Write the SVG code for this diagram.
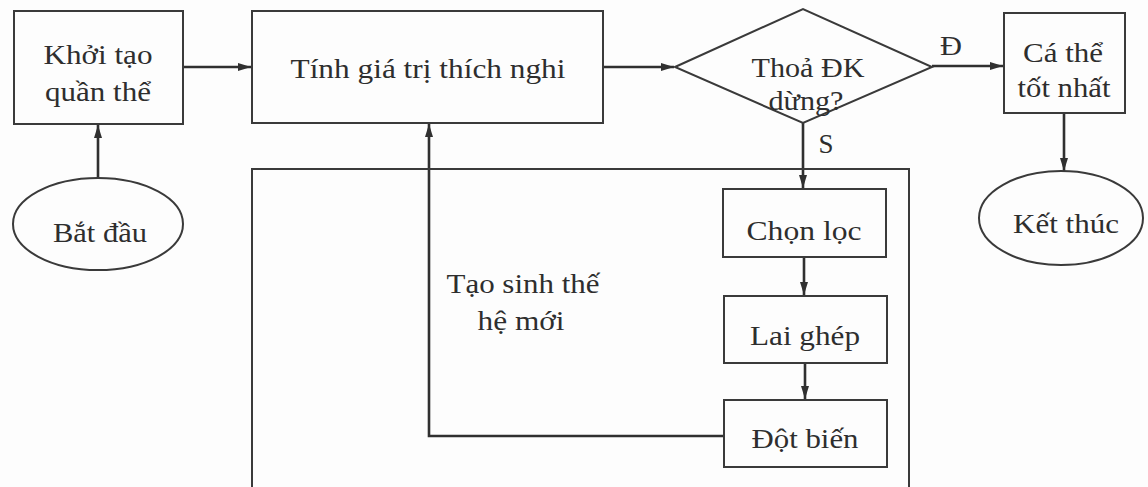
<svg xmlns="http://www.w3.org/2000/svg" width="1148" height="487" viewBox="0 0 1148 487">
  <style>
    .shape { fill: none; stroke: #3a3a3a; stroke-width: 2; }
    .link { fill: none; stroke: #303030; stroke-width: 2.6; }
    .label { font-family: "Liberation Serif", "Times New Roman", serif; font-size: 28px; fill: #2e2e2e; text-anchor: middle; }
  </style>
  <defs>
    <marker id="arrow" viewBox="0 0 13 8" refX="13" refY="4" markerWidth="13" markerHeight="8" markerUnits="userSpaceOnUse" orient="auto">
      <path d="M0,0 L13,4 L0,8 Z" fill="#303030"/>
    </marker>
  </defs>
  <rect width="1148" height="487" fill="#fdfdfd"/>

  <!-- connectors -->
  <g id="connectors">
    <line class="link" x1="98" y1="178" x2="98" y2="125" marker-end="url(#arrow)"/>
    <line class="link" x1="183" y1="67" x2="251" y2="67" marker-end="url(#arrow)"/>
    <line class="link" x1="603" y1="67" x2="674" y2="67" marker-end="url(#arrow)"/>
    <line class="link" x1="932" y1="66" x2="1003" y2="66" marker-end="url(#arrow)"/>
    <line class="link" x1="1064" y1="113" x2="1064" y2="171" marker-end="url(#arrow)"/>
    <line class="link" x1="803" y1="123" x2="803" y2="188" marker-end="url(#arrow)"/>
    <line class="link" x1="804" y1="257" x2="804" y2="295" marker-end="url(#arrow)"/>
    <line class="link" x1="805" y1="363" x2="805" y2="399" marker-end="url(#arrow)"/>
    <polyline class="link" points="724,436 429,436 429,124" marker-end="url(#arrow)"/>
    <text class="label" x="951" y="55" textLength="22" lengthAdjust="spacingAndGlyphs">Đ</text>
    <text class="label" x="826" y="153" textLength="15" lengthAdjust="spacingAndGlyphs">S</text>
  </g>

  <!-- outer frame of the reproduction stage -->
  <g id="generation">
    <path class="shape" d="M252,490 V169 H909 V490"/>
    <text class="label" x="523" y="293" textLength="153" lengthAdjust="spacingAndGlyphs">Tạo sinh thế</text>
    <text class="label" x="521" y="330" textLength="87" lengthAdjust="spacingAndGlyphs">hệ mới</text>
  </g>

  <g id="start">
    <ellipse class="shape" cx="98" cy="224" rx="85" ry="46"/>
    <text class="label" x="100" y="242" textLength="94" lengthAdjust="spacingAndGlyphs">Bắt đầu</text>
  </g>

  <g id="init">
    <rect class="shape" x="14" y="11" width="169" height="113"/>
    <text class="label" x="98" y="64" textLength="109" lengthAdjust="spacingAndGlyphs">Khởi tạo</text>
    <text class="label" x="98" y="101" textLength="106" lengthAdjust="spacingAndGlyphs">quần thể</text>
  </g>

  <g id="fitness">
    <rect class="shape" x="252" y="11" width="351" height="112"/>
    <text class="label" x="428" y="78" textLength="275" lengthAdjust="spacingAndGlyphs">Tính giá trị thích nghi</text>
  </g>

  <g id="stop-check">
    <polygon class="shape" points="675,67 803,9 932,67 803,123"/>
    <text class="label" x="808" y="77" textLength="113" lengthAdjust="spacingAndGlyphs">Thoả ĐK</text>
    <text class="label" x="806" y="110" textLength="75" lengthAdjust="spacingAndGlyphs">dừng?</text>
  </g>

  <g id="best">
    <rect class="shape" x="1004" y="13" width="121" height="100"/>
    <text class="label" x="1063" y="62" textLength="80" lengthAdjust="spacingAndGlyphs">Cá thể</text>
    <text class="label" x="1064" y="97" textLength="93" lengthAdjust="spacingAndGlyphs">tốt nhất</text>
  </g>

  <g id="end">
    <ellipse class="shape" cx="1061" cy="218" rx="82" ry="47"/>
    <text class="label" x="1066" y="233" textLength="106" lengthAdjust="spacingAndGlyphs">Kết thúc</text>
  </g>

  <g id="selection">
    <rect class="shape" x="723" y="189" width="163" height="68"/>
    <text class="label" x="804" y="240" textLength="115" lengthAdjust="spacingAndGlyphs">Chọn lọc</text>
  </g>

  <g id="crossover">
    <rect class="shape" x="724" y="296" width="163" height="67"/>
    <text class="label" x="805" y="345" textLength="110" lengthAdjust="spacingAndGlyphs">Lai ghép</text>
  </g>

  <g id="mutation">
    <rect class="shape" x="724" y="400" width="163" height="67"/>
    <text class="label" x="805" y="448" textLength="107" lengthAdjust="spacingAndGlyphs">Đột biến</text>
  </g>
</svg>
